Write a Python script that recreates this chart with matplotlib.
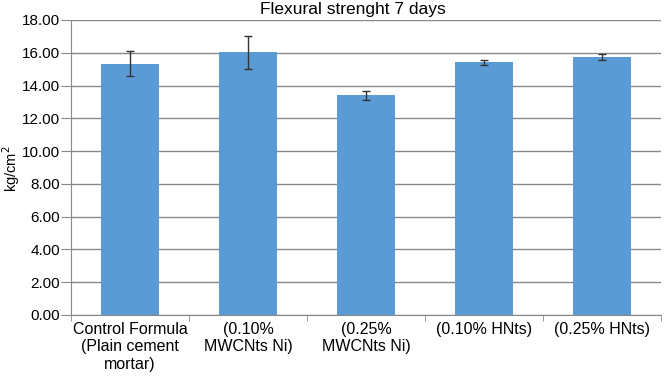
import matplotlib.pyplot as plt
import numpy as np

plt.rcParams['font.family'] = ['Liberation Sans', 'DejaVu Sans']

categories = ["Control Formula\n(Plain cement\nmortar)", "(0.10%\nMWCNts Ni)",
              "(0.25%\nMWCNts Ni)", "(0.10% HNts)", "(0.25% HNts)"]
strength = [15.33, 16.02, 13.40, 15.43, 15.76]
errors = [0.76, 1.03, 0.28, 0.15, 0.18]
yticks = [0, 2, 4, 6, 8, 10, 12, 14, 16, 18]

fig = plt.figure(figsize=(6.65, 3.84), dpi=100)
ax = fig.add_axes([0.107, 0.180, 0.887, 0.768])

x = np.arange(len(categories))
ax.bar(x, strength, width=0.494, color='#5B9BD5', zorder=2,
       yerr=errors, error_kw=dict(ecolor='#333333', elinewidth=1, capsize=3, capthick=1))

ax.set_xlim(-0.5, len(categories) - 0.5)
ax.set_ylim(0, 18)
ax.set_yticks(yticks)
ax.set_yticklabels([f"{v:.2f}" for v in yticks], fontsize=11)
ax.set_xticks(x)
ax.set_xticklabels(categories, fontsize=11.5)
ax.tick_params(axis='x', length=0, pad=5)
ax.set_xticks(np.arange(len(categories) + 1) - 0.5, minor=True)
ax.tick_params(axis='x', which='minor', length=4, color='#888888')
ax.tick_params(axis='y', length=7, color='#888888', pad=1)

ax.yaxis.grid(True, color='#888888', linewidth=1, zorder=0)
ax.set_axisbelow(True)
for s in ['top', 'right']:
    ax.spines[s].set_visible(False)
for s in ['left', 'bottom']:
    ax.spines[s].set_color('#888888')

# labels placed by hand so they stay inside the figure
fig.text(11 / 665, 0.56, "kg/cm$^2$", rotation=90, ha='center', va='center', fontsize=10.5)
fig.text(353 / 665, 1 - 14 / 384, "Flexural strenght 7 days", ha='center', va='baseline', fontsize=12.5)

plt.savefig("out.png", dpi=100)
plt.close()
